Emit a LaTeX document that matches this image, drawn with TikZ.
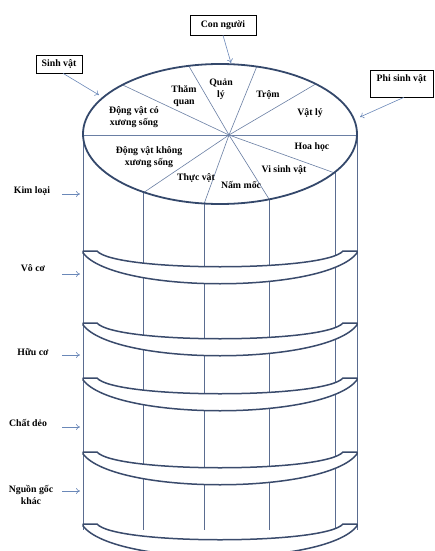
\documentclass[tikz,border=0pt]{standalone}
\usepackage{fontspec}
\setmainfont{Liberation Serif}
\usetikzlibrary{calc,arrows.meta}
\definecolor{rimblue}{HTML}{34486B}
\definecolor{bandblue}{HTML}{3A4B6C}
\definecolor{rayblue}{HTML}{6A7FA4}
\definecolor{vertblue}{HTML}{5A6C90}
\definecolor{arrowblue}{HTML}{6A88B8}
\newcommand\ringband[1]{%
  \draw[bandline] (83,#1) -- (97,#1) .. controls (115,{#1+21}) and (325,{#1+21}) .. (343,#1)
    -- (357,#1) -- (357,{#1+2}) .. controls (325,{#1+43}) and (115,{#1+43}) .. (83,{#1+2}) -- cycle;}
\begin{document}
\begin{tikzpicture}[x=1pt,y=-1pt,
  lbl/.style={font=\fontsize{9.8}{11.8}\selectfont\bfseries, align=center, inner sep=0pt, text=black},
  boxlbl/.style={lbl, draw=black, line width=0.6pt},
  arr/.style={draw=arrowblue, line width=0.6pt, -{To[length=4pt,width=6pt]}},
  ray/.style={draw=rayblue, line width=0.6pt},
  vert/.style={draw=vertblue, line width=0.7pt},
  rim/.style={draw=rimblue, line width=1.8pt},
  bandline/.style={draw=bandblue, line width=1.5pt, fill=white, line join=round}]
\useasboundingbox (0,0) rectangle (434,551);
% vertical lines of the cylinder
\foreach \xx in {143,204,269,335} \draw[vert] (\xx,140) -- (\xx,530);
\draw[vert] (83,134) -- (83,530);
\draw[vert] (357,134) -- (357,530);
% top face
\fill[white] (220,134) ellipse [x radius=137pt, y radius=70pt];
\coordinate (C) at (229,135);
\begin{scope}
  \clip (220,134) ellipse [x radius=137pt, y radius=70pt];
  \foreach \px/\py in {83/135,127/87,190/68,257/66,314/85,355/135,332/172,269/199,204/204,143/193}
    \draw[ray] (C) -- ($(C)!3!(\px,\py)$);
\end{scope}
\draw[rim] (220,134) ellipse [x radius=137pt, y radius=70pt];
% bands
\ringband{251}
\ringband{323}
\ringband{378}
\ringband{452}
\ringband{524}
% sector labels
\node[lbl] (tham) at (184,96) {Thăm\\quan};
\node[lbl] (quan) at (221,89) {Quản\\lý};
\node[lbl] (trom) at (268,95) {Trộm};
\node[lbl] (vatly) at (310,113) {Vật lý};
\node[lbl] (hoa) at (312,147) {Hoa học};
\node[lbl] (visinh) at (284,170) {Vi sinh vật};
\node[lbl] (nam) at (241,185) {Nấm mốc};
\node[lbl] (thuc) at (196,178) {Thực vật};
\node[lbl] (dvkxs) at (149,157) {Động vật không\\xương sống};
\node[lbl] (dvcxs) at (134,117) {Động vật có\\xương sống};
% boxes
\node[boxlbl, minimum width=66pt, minimum height=20pt] (con) at (223,25) {Con người};
\node[boxlbl, minimum width=46pt, minimum height=18pt] (sinh) at (59,64) {Sinh vật};
\node[boxlbl, minimum width=63pt, inner ysep=4.5pt, text height=7pt, text depth=11pt] (phi) at (401.5,83.5) {Phi sinh vật};
\coordinate (e1) at (231,63);
\coordinate (e2) at (99,95);
\coordinate (e3) at (360,117);
\draw[arr] (con.south) -- (e1);
\draw[arr] ($(sinh.south)+(4,0)$) -- (e2);
\draw[arr] ($(phi.south)+(2.5,0)$) -- (e3);
% left labels
\node[lbl] (kim) at (32,191) {Kim loại};
\node[lbl] (voco) at (33,268) {Vô cơ};
\node[lbl] (huuco) at (33,352) {Hữu cơ};
\node[lbl] (chat) at (28,423) {Chất dẻo};
\node[lbl] (nguon) at (31,495) {Nguồn gốc\\khác};
\foreach \n/\yy in {k/194,v/274,h/355,c/427,g/491} {
  \coordinate (\n a) at (62,\yy);
  \coordinate (\n b) at (80,\yy);
  \draw[arr] (\n a) -- (\n b);
}
\end{tikzpicture}
\end{document}
